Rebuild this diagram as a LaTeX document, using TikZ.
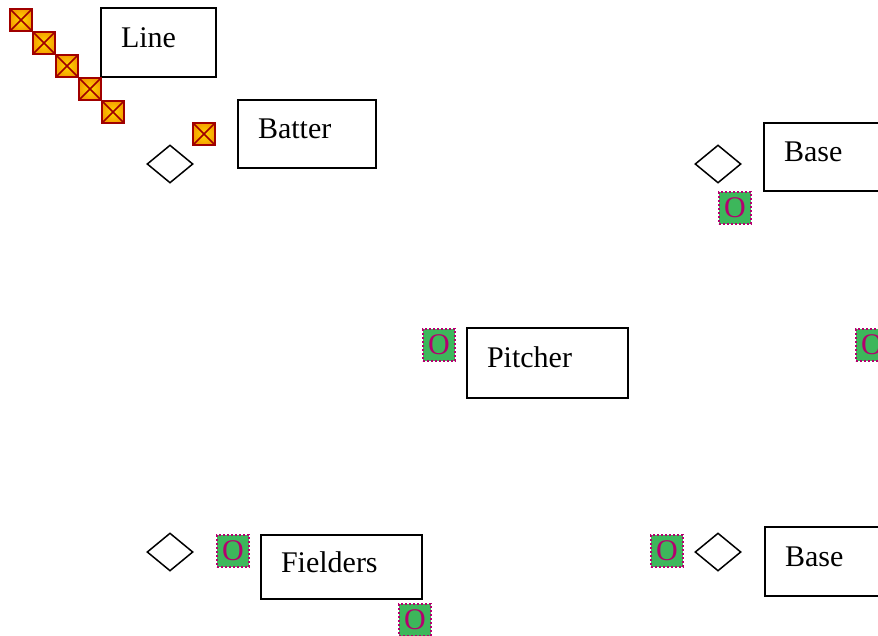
\documentclass[tikz,border=0pt]{standalone}
\usepackage{fontspec}
\setmainfont{Liberation Serif}
\usetikzlibrary{shapes.geometric}
\definecolor{dred}{HTML}{A00000}
\definecolor{xorange}{HTML}{F5A000}
\definecolor{xyellow}{HTML}{FFD800}
\definecolor{ogreen}{HTML}{3DB75B}
\definecolor{omag}{HTML}{B4006E}
\tikzset{
  labelbox/.style={draw, line width=1.8pt, rectangle, inner xsep=20pt, inner ysep=0pt,
    minimum height=69pt, text height=20pt, text depth=11pt, align=left,
    font=\fontsize{30}{36}\selectfont},
  gem/.style={diamond, draw, line width=1.5pt, inner sep=0pt, minimum width=46pt, minimum height=38pt},
  xsq/.style={rectangle, minimum size=22pt, inner sep=0pt, draw=dred, line width=2pt,
    inner color=xyellow, outer color=xorange,
    path picture={\draw[dred, line width=1.6pt]
      (path picture bounding box.north west) -- (path picture bounding box.south east)
      (path picture bounding box.north east) -- (path picture bounding box.south west);}},
  osq/.style={rectangle, minimum size=32pt, inner sep=0pt, fill=ogreen,
    preaction={draw=white, line width=2pt},
    draw=omag, dotted, line width=2pt, text=omag, font=\fontsize{30}{36}\selectfont}
}
\begin{document}
\begin{tikzpicture}[x=1pt, y=-1pt]
\useasboundingbox (0,0) rectangle (878,635);
\clip (0,0) rectangle (878,635);
% boxes
\node[labelbox, text width=75pt] (line) at (158.5,42.5) {Line};
\node[labelbox, text width=98pt, minimum height=68pt] (batter) at (307,134) {Batter};
\node[labelbox, text width=98pt, minimum height=68pt] (basetop) at (833,157) {Base};
\node[labelbox, text width=121pt, minimum height=70pt] (pitcher) at (547.5,363) {Pitcher};
\node[labelbox, text width=121pt, minimum height=64pt, text depth=9pt] (fielders) at (341.5,567) {Fielders};
\node[labelbox, text width=98pt] (basebot) at (834,561.5) {Base};
% diamonds
\node[gem] (d1) at (170,164) {};
\node[gem] (d2) at (718,164) {};
\node[gem] (d3) at (170,552) {};
\node[gem] (d4) at (718,552) {};
% red squares
\node[xsq] (x1) at (21,20) {};
\node[xsq] (x2) at (44,43) {};
\node[xsq] (x3) at (67,66) {};
\node[xsq] (x4) at (90,89) {};
\node[xsq] (x5) at (113,112) {};
\node[xsq] (x6) at (204,134) {};
% green squares
\node[osq] (o1) at (735,208) {O};
\node[osq] (o2) at (439,345) {O};
\node[osq] (o3) at (872,345) {O};
\node[osq] (o4) at (233,551) {O};
\node[osq] (o5) at (415,620) {O};
\node[osq] (o6) at (667,551) {O};
\end{tikzpicture}
\end{document}
